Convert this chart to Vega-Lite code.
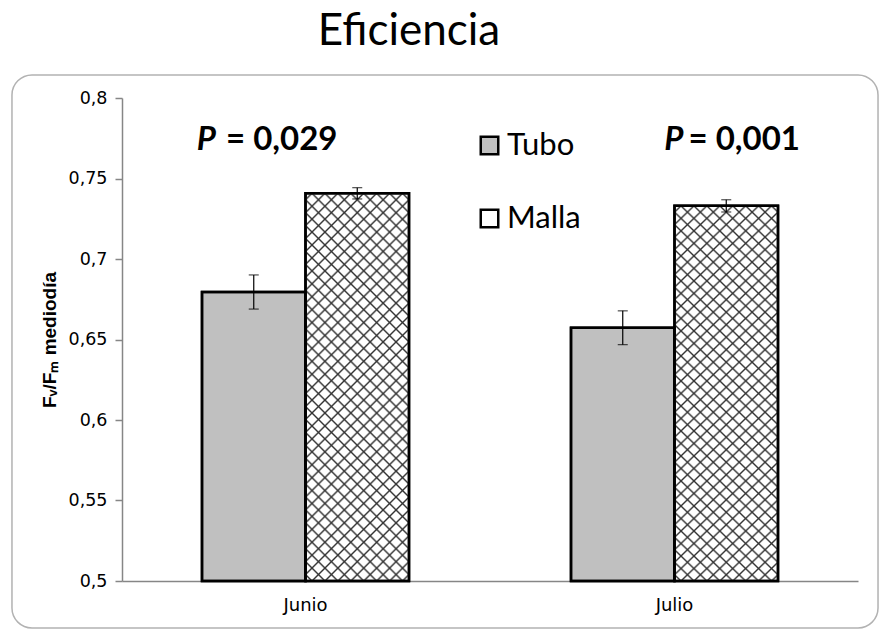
{
  "$schema": "https://vega.github.io/schema/vega-lite/v6.json",
  "width": 736,
  "height": 483,
  "autosize": {"type": "none"},
  "padding": {"left": 122, "top": 98, "right": 21, "bottom": 48},
  "background": "white",
  "title": {"text": "Eficiencia", "font": "Lato", "fontSize": 44, "fontWeight": "normal", "color": "black", "anchor": "middle", "frame": "group", "dx": -81, "offset": 20},
  "datasets": {
    "bars": [
      {"mes": "Junio", "grupo": "Tubo", "valor": 0.6795, "lo": 0.6689, "hi": 0.6901},
      {"mes": "Junio", "grupo": "Malla", "valor": 0.7408, "lo": 0.7373, "hi": 0.7443},
      {"mes": "Julio", "grupo": "Tubo", "valor": 0.6573, "lo": 0.6468, "hi": 0.6678},
      {"mes": "Julio", "grupo": "Malla", "valor": 0.733, "lo": 0.7292, "hi": 0.7368}
    ],
    "notas": [
      {"mes": "Junio", "p": "P", "texto": "= 0,029"},
      {"mes": "Julio", "p": "P", "texto": "= 0,001"}
    ]
  },
  "config": {"view": {"stroke": null}},
  "layer": [
    {
      "data": {"values": [{"marco": "borde"}]},
      "mark": {"type": "rect", "fill": "transparent", "stroke": "#b2b2b2", "strokeWidth": 1.5, "cornerRadius": 20},
      "encoding": {
        "x": {"datum": -0.1495, "type": "quantitative", "scale": {"domain": [0, 1], "nice": false, "zero": false}, "axis": null},
        "x2": {"datum": 1.0272},
        "y": {"datum": 0.8143, "type": "quantitative", "scale": {"domain": [0.5, 0.8], "nice": false, "zero": false}},
        "y2": {"datum": 0.4708}
      }
    },
    {
      "data": {"name": "bars"},
      "layer": [
        {
          "mark": {"type": "bar", "stroke": "black", "strokeWidth": 2.5},
          "encoding": {
            "x": {"field": "mes", "type": "nominal", "sort": ["Junio", "Julio"],
              "scale": {"domain": ["Junio", "Julio"], "paddingInner": 0.439, "paddingOuter": 0.2168},
              "axis": {"title": null, "labelAngle": 0, "ticks": false, "labelFont": "DejaVu Sans", "labelFontSize": 18, "labelColor": "black", "labelPadding": 15, "domainColor": "#868686", "domainWidth": 1.5}},
            "xOffset": {"field": "grupo", "type": "nominal", "sort": ["Tubo", "Malla"], "scale": {"domain": ["Tubo", "Malla"], "paddingInner": 0, "paddingOuter": 0}},
            "y": {"field": "valor", "type": "quantitative", "scale": {"domain": [0.5, 0.8], "nice": false, "zero": false},
              "axis": {"values": [0.5, 0.55, 0.6, 0.65, 0.7, 0.75, 0.8], "labelExpr": "replace(format(datum.value, '.2~f'), '.', ',')",
                "title": "Fᵥ/Fₘ mediodía", "titleFont": "Liberation Sans", "titleFontSize": 19, "titleFontWeight": "bold", "titleColor": "black", "titlePadding": 9,
                "labelFont": "DejaVu Sans", "labelFontSize": 17.5, "labelColor": "black", "labelPadding": 8, "tickSize": 7, "tickColor": "#868686", "tickWidth": 1.5,
                "domainColor": "#868686", "domainWidth": 1.5, "grid": false}},
            "y2": {"datum": 0.5},
            "color": {"field": "grupo", "type": "nominal", "sort": ["Tubo", "Malla"],
              "scale": {"domain": ["Tubo", "Malla"], "range": ["#c0c0c0", "#ffffff"]},
              "legend": {"orient": "none", "legendX": 352, "legendY": 32, "title": null, "symbolType": "square", "symbolSize": 306,
                "labelFont": "Lato", "labelFontSize": 31, "labelColor": "black", "labelOffset": 2, "rowPadding": 41, "padding": 0,
                "symbolStrokeColor": "black", "symbolStrokeWidth": 2.5}}
          }
        },
        {
          "transform": [{"filter": "datum.grupo === 'Malla'"}],
          "mark": {"type": "bar", "strokeWidth": 0, "fill": {"gradient": "linear", "x1": 0, "y1": 0, "x2": 0.3155, "y2": 1.1826, "stops": [
        {"offset":0.0091,"color":"rgba(51,51,51,0)"},{"offset":0.0132,"color":"#333333"},{"offset":0.0173,"color":"rgba(51,51,51,0)"},
        {"offset":0.0354,"color":"rgba(51,51,51,0)"},{"offset":0.0395,"color":"#333333"},{"offset":0.0436,"color":"rgba(51,51,51,0)"},
        {"offset":0.0617,"color":"rgba(51,51,51,0)"},{"offset":0.0658,"color":"#333333"},{"offset":0.0699,"color":"rgba(51,51,51,0)"},
        {"offset":0.0880,"color":"rgba(51,51,51,0)"},{"offset":0.0921,"color":"#333333"},{"offset":0.0962,"color":"rgba(51,51,51,0)"},
        {"offset":0.1143,"color":"rgba(51,51,51,0)"},{"offset":0.1184,"color":"#333333"},{"offset":0.1225,"color":"rgba(51,51,51,0)"},
        {"offset":0.1406,"color":"rgba(51,51,51,0)"},{"offset":0.1447,"color":"#333333"},{"offset":0.1488,"color":"rgba(51,51,51,0)"},
        {"offset":0.1670,"color":"rgba(51,51,51,0)"},{"offset":0.1711,"color":"#333333"},{"offset":0.1752,"color":"rgba(51,51,51,0)"},
        {"offset":0.1933,"color":"rgba(51,51,51,0)"},{"offset":0.1974,"color":"#333333"},{"offset":0.2015,"color":"rgba(51,51,51,0)"},
        {"offset":0.2196,"color":"rgba(51,51,51,0)"},{"offset":0.2237,"color":"#333333"},{"offset":0.2278,"color":"rgba(51,51,51,0)"},
        {"offset":0.2459,"color":"rgba(51,51,51,0)"},{"offset":0.2500,"color":"#333333"},{"offset":0.2541,"color":"rgba(51,51,51,0)"},
        {"offset":0.2722,"color":"rgba(51,51,51,0)"},{"offset":0.2763,"color":"#333333"},{"offset":0.2804,"color":"rgba(51,51,51,0)"},
        {"offset":0.2985,"color":"rgba(51,51,51,0)"},{"offset":0.3026,"color":"#333333"},{"offset":0.3067,"color":"rgba(51,51,51,0)"},
        {"offset":0.3249,"color":"rgba(51,51,51,0)"},{"offset":0.3290,"color":"#333333"},{"offset":0.3331,"color":"rgba(51,51,51,0)"},
        {"offset":0.3512,"color":"rgba(51,51,51,0)"},{"offset":0.3553,"color":"#333333"},{"offset":0.3594,"color":"rgba(51,51,51,0)"},
        {"offset":0.3775,"color":"rgba(51,51,51,0)"},{"offset":0.3816,"color":"#333333"},{"offset":0.3857,"color":"rgba(51,51,51,0)"},
        {"offset":0.4038,"color":"rgba(51,51,51,0)"},{"offset":0.4079,"color":"#333333"},{"offset":0.4120,"color":"rgba(51,51,51,0)"},
        {"offset":0.4301,"color":"rgba(51,51,51,0)"},{"offset":0.4342,"color":"#333333"},{"offset":0.4383,"color":"rgba(51,51,51,0)"},
        {"offset":0.4564,"color":"rgba(51,51,51,0)"},{"offset":0.4605,"color":"#333333"},{"offset":0.4646,"color":"rgba(51,51,51,0)"},
        {"offset":0.4827,"color":"rgba(51,51,51,0)"},{"offset":0.4868,"color":"#333333"},{"offset":0.4909,"color":"rgba(51,51,51,0)"},
        {"offset":0.5091,"color":"rgba(51,51,51,0)"},{"offset":0.5132,"color":"#333333"},{"offset":0.5173,"color":"rgba(51,51,51,0)"},
        {"offset":0.5354,"color":"rgba(51,51,51,0)"},{"offset":0.5395,"color":"#333333"},{"offset":0.5436,"color":"rgba(51,51,51,0)"},
        {"offset":0.5617,"color":"rgba(51,51,51,0)"},{"offset":0.5658,"color":"#333333"},{"offset":0.5699,"color":"rgba(51,51,51,0)"},
        {"offset":0.5880,"color":"rgba(51,51,51,0)"},{"offset":0.5921,"color":"#333333"},{"offset":0.5962,"color":"rgba(51,51,51,0)"},
        {"offset":0.6143,"color":"rgba(51,51,51,0)"},{"offset":0.6184,"color":"#333333"},{"offset":0.6225,"color":"rgba(51,51,51,0)"},
        {"offset":0.6406,"color":"rgba(51,51,51,0)"},{"offset":0.6447,"color":"#333333"},{"offset":0.6488,"color":"rgba(51,51,51,0)"},
        {"offset":0.6670,"color":"rgba(51,51,51,0)"},{"offset":0.6711,"color":"#333333"},{"offset":0.6752,"color":"rgba(51,51,51,0)"},
        {"offset":0.6933,"color":"rgba(51,51,51,0)"},{"offset":0.6974,"color":"#333333"},{"offset":0.7015,"color":"rgba(51,51,51,0)"},
        {"offset":0.7196,"color":"rgba(51,51,51,0)"},{"offset":0.7237,"color":"#333333"},{"offset":0.7278,"color":"rgba(51,51,51,0)"},
        {"offset":0.7459,"color":"rgba(51,51,51,0)"},{"offset":0.7500,"color":"#333333"},{"offset":0.7541,"color":"rgba(51,51,51,0)"},
        {"offset":0.7722,"color":"rgba(51,51,51,0)"},{"offset":0.7763,"color":"#333333"},{"offset":0.7804,"color":"rgba(51,51,51,0)"},
        {"offset":0.7985,"color":"rgba(51,51,51,0)"},{"offset":0.8026,"color":"#333333"},{"offset":0.8067,"color":"rgba(51,51,51,0)"},
        {"offset":0.8249,"color":"rgba(51,51,51,0)"},{"offset":0.8290,"color":"#333333"},{"offset":0.8331,"color":"rgba(51,51,51,0)"},
        {"offset":0.8512,"color":"rgba(51,51,51,0)"},{"offset":0.8553,"color":"#333333"},{"offset":0.8594,"color":"rgba(51,51,51,0)"},
        {"offset":0.8775,"color":"rgba(51,51,51,0)"},{"offset":0.8816,"color":"#333333"},{"offset":0.8857,"color":"rgba(51,51,51,0)"},
        {"offset":0.9038,"color":"rgba(51,51,51,0)"},{"offset":0.9079,"color":"#333333"},{"offset":0.9120,"color":"rgba(51,51,51,0)"},
        {"offset":0.9301,"color":"rgba(51,51,51,0)"},{"offset":0.9342,"color":"#333333"},{"offset":0.9383,"color":"rgba(51,51,51,0)"},
        {"offset":0.9564,"color":"rgba(51,51,51,0)"},{"offset":0.9605,"color":"#333333"},{"offset":0.9646,"color":"rgba(51,51,51,0)"},
        {"offset":0.9827,"color":"rgba(51,51,51,0)"},{"offset":0.9868,"color":"#333333"},{"offset":0.9909,"color":"rgba(51,51,51,0)"}
          ]}},
          "encoding": {
            "x": {"field": "mes", "type": "nominal"},
            "xOffset": {"field": "grupo", "type": "nominal"},
            "y": {"field": "valor", "type": "quantitative"},
            "y2": {"datum": 0.5}
          }
        },
        {
          "transform": [{"filter": "datum.grupo === 'Malla'"}],
          "mark": {"type": "bar", "strokeWidth": 0, "fill": {"gradient": "linear", "x1": 1, "y1": 0, "x2": 0.6845, "y2": 1.1826, "stops": [
        {"offset":0.0091,"color":"rgba(51,51,51,0)"},{"offset":0.0132,"color":"#333333"},{"offset":0.0173,"color":"rgba(51,51,51,0)"},
        {"offset":0.0354,"color":"rgba(51,51,51,0)"},{"offset":0.0395,"color":"#333333"},{"offset":0.0436,"color":"rgba(51,51,51,0)"},
        {"offset":0.0617,"color":"rgba(51,51,51,0)"},{"offset":0.0658,"color":"#333333"},{"offset":0.0699,"color":"rgba(51,51,51,0)"},
        {"offset":0.0880,"color":"rgba(51,51,51,0)"},{"offset":0.0921,"color":"#333333"},{"offset":0.0962,"color":"rgba(51,51,51,0)"},
        {"offset":0.1143,"color":"rgba(51,51,51,0)"},{"offset":0.1184,"color":"#333333"},{"offset":0.1225,"color":"rgba(51,51,51,0)"},
        {"offset":0.1406,"color":"rgba(51,51,51,0)"},{"offset":0.1447,"color":"#333333"},{"offset":0.1488,"color":"rgba(51,51,51,0)"},
        {"offset":0.1670,"color":"rgba(51,51,51,0)"},{"offset":0.1711,"color":"#333333"},{"offset":0.1752,"color":"rgba(51,51,51,0)"},
        {"offset":0.1933,"color":"rgba(51,51,51,0)"},{"offset":0.1974,"color":"#333333"},{"offset":0.2015,"color":"rgba(51,51,51,0)"},
        {"offset":0.2196,"color":"rgba(51,51,51,0)"},{"offset":0.2237,"color":"#333333"},{"offset":0.2278,"color":"rgba(51,51,51,0)"},
        {"offset":0.2459,"color":"rgba(51,51,51,0)"},{"offset":0.2500,"color":"#333333"},{"offset":0.2541,"color":"rgba(51,51,51,0)"},
        {"offset":0.2722,"color":"rgba(51,51,51,0)"},{"offset":0.2763,"color":"#333333"},{"offset":0.2804,"color":"rgba(51,51,51,0)"},
        {"offset":0.2985,"color":"rgba(51,51,51,0)"},{"offset":0.3026,"color":"#333333"},{"offset":0.3067,"color":"rgba(51,51,51,0)"},
        {"offset":0.3249,"color":"rgba(51,51,51,0)"},{"offset":0.3290,"color":"#333333"},{"offset":0.3331,"color":"rgba(51,51,51,0)"},
        {"offset":0.3512,"color":"rgba(51,51,51,0)"},{"offset":0.3553,"color":"#333333"},{"offset":0.3594,"color":"rgba(51,51,51,0)"},
        {"offset":0.3775,"color":"rgba(51,51,51,0)"},{"offset":0.3816,"color":"#333333"},{"offset":0.3857,"color":"rgba(51,51,51,0)"},
        {"offset":0.4038,"color":"rgba(51,51,51,0)"},{"offset":0.4079,"color":"#333333"},{"offset":0.4120,"color":"rgba(51,51,51,0)"},
        {"offset":0.4301,"color":"rgba(51,51,51,0)"},{"offset":0.4342,"color":"#333333"},{"offset":0.4383,"color":"rgba(51,51,51,0)"},
        {"offset":0.4564,"color":"rgba(51,51,51,0)"},{"offset":0.4605,"color":"#333333"},{"offset":0.4646,"color":"rgba(51,51,51,0)"},
        {"offset":0.4827,"color":"rgba(51,51,51,0)"},{"offset":0.4868,"color":"#333333"},{"offset":0.4909,"color":"rgba(51,51,51,0)"},
        {"offset":0.5091,"color":"rgba(51,51,51,0)"},{"offset":0.5132,"color":"#333333"},{"offset":0.5173,"color":"rgba(51,51,51,0)"},
        {"offset":0.5354,"color":"rgba(51,51,51,0)"},{"offset":0.5395,"color":"#333333"},{"offset":0.5436,"color":"rgba(51,51,51,0)"},
        {"offset":0.5617,"color":"rgba(51,51,51,0)"},{"offset":0.5658,"color":"#333333"},{"offset":0.5699,"color":"rgba(51,51,51,0)"},
        {"offset":0.5880,"color":"rgba(51,51,51,0)"},{"offset":0.5921,"color":"#333333"},{"offset":0.5962,"color":"rgba(51,51,51,0)"},
        {"offset":0.6143,"color":"rgba(51,51,51,0)"},{"offset":0.6184,"color":"#333333"},{"offset":0.6225,"color":"rgba(51,51,51,0)"},
        {"offset":0.6406,"color":"rgba(51,51,51,0)"},{"offset":0.6447,"color":"#333333"},{"offset":0.6488,"color":"rgba(51,51,51,0)"},
        {"offset":0.6670,"color":"rgba(51,51,51,0)"},{"offset":0.6711,"color":"#333333"},{"offset":0.6752,"color":"rgba(51,51,51,0)"},
        {"offset":0.6933,"color":"rgba(51,51,51,0)"},{"offset":0.6974,"color":"#333333"},{"offset":0.7015,"color":"rgba(51,51,51,0)"},
        {"offset":0.7196,"color":"rgba(51,51,51,0)"},{"offset":0.7237,"color":"#333333"},{"offset":0.7278,"color":"rgba(51,51,51,0)"},
        {"offset":0.7459,"color":"rgba(51,51,51,0)"},{"offset":0.7500,"color":"#333333"},{"offset":0.7541,"color":"rgba(51,51,51,0)"},
        {"offset":0.7722,"color":"rgba(51,51,51,0)"},{"offset":0.7763,"color":"#333333"},{"offset":0.7804,"color":"rgba(51,51,51,0)"},
        {"offset":0.7985,"color":"rgba(51,51,51,0)"},{"offset":0.8026,"color":"#333333"},{"offset":0.8067,"color":"rgba(51,51,51,0)"},
        {"offset":0.8249,"color":"rgba(51,51,51,0)"},{"offset":0.8290,"color":"#333333"},{"offset":0.8331,"color":"rgba(51,51,51,0)"},
        {"offset":0.8512,"color":"rgba(51,51,51,0)"},{"offset":0.8553,"color":"#333333"},{"offset":0.8594,"color":"rgba(51,51,51,0)"},
        {"offset":0.8775,"color":"rgba(51,51,51,0)"},{"offset":0.8816,"color":"#333333"},{"offset":0.8857,"color":"rgba(51,51,51,0)"},
        {"offset":0.9038,"color":"rgba(51,51,51,0)"},{"offset":0.9079,"color":"#333333"},{"offset":0.9120,"color":"rgba(51,51,51,0)"},
        {"offset":0.9301,"color":"rgba(51,51,51,0)"},{"offset":0.9342,"color":"#333333"},{"offset":0.9383,"color":"rgba(51,51,51,0)"},
        {"offset":0.9564,"color":"rgba(51,51,51,0)"},{"offset":0.9605,"color":"#333333"},{"offset":0.9646,"color":"rgba(51,51,51,0)"},
        {"offset":0.9827,"color":"rgba(51,51,51,0)"},{"offset":0.9868,"color":"#333333"},{"offset":0.9909,"color":"rgba(51,51,51,0)"}
          ]}},
          "encoding": {
            "x": {"field": "mes", "type": "nominal"},
            "xOffset": {"field": "grupo", "type": "nominal"},
            "y": {"field": "valor", "type": "quantitative"},
            "y2": {"datum": 0.5}
          }
        },
        {
          "mark": {"type": "bar", "fill": "transparent", "stroke": "black", "strokeWidth": 2.5},
          "encoding": {
            "x": {"field": "mes", "type": "nominal"},
            "xOffset": {"field": "grupo", "type": "nominal"},
            "y": {"field": "valor", "type": "quantitative"},
            "y2": {"datum": 0.5}
          }
        },
        {
          "mark": {"type": "rule", "color": "black", "strokeWidth": 1.2},
          "encoding": {
            "x": {"field": "mes", "type": "nominal"},
            "xOffset": {"field": "grupo", "type": "nominal"},
            "y": {"field": "lo", "type": "quantitative"},
            "y2": {"field": "hi"}
          }
        },
        {
          "mark": {"type": "tick", "color": "black", "size": 10, "thickness": 1.2},
          "encoding": {
            "x": {"field": "mes", "type": "nominal"},
            "xOffset": {"field": "grupo", "type": "nominal"},
            "y": {"field": "lo", "type": "quantitative"}
          }
        },
        {
          "mark": {"type": "tick", "color": "black", "size": 10, "thickness": 1.2},
          "encoding": {
            "x": {"field": "mes", "type": "nominal"},
            "xOffset": {"field": "grupo", "type": "nominal"},
            "y": {"field": "hi", "type": "quantitative"}
          }
        },
        {
          "data": {"name": "notas"},
          "transform": [{"filter": "datum.mes === 'Junio'"}],
          "mark": {"type": "text", "font": "Lato", "fontSize": 33, "fontWeight": "bold", "fontStyle": "italic", "align": "right", "baseline": "alphabetic", "dx": -89.5, "color": "black"},
          "encoding": {"x": {"field": "mes", "type": "nominal"}, "y": {"datum": 0.7677}, "text": {"field": "p"}}
        },
        {
          "data": {"name": "notas"},
          "transform": [{"filter": "datum.mes === 'Junio'"}],
          "mark": {"type": "text", "font": "Lato", "fontSize": 33, "fontWeight": "bold", "align": "left", "baseline": "alphabetic", "dx": -79.5, "color": "black"},
          "encoding": {"x": {"field": "mes", "type": "nominal"}, "y": {"datum": 0.7677}, "text": {"field": "texto"}}
        },
        {
          "data": {"name": "notas"},
          "transform": [{"filter": "datum.mes === 'Julio'"}],
          "mark": {"type": "text", "font": "Lato", "fontSize": 33, "fontWeight": "bold", "fontStyle": "italic", "align": "right", "baseline": "alphabetic", "dx": 9, "color": "black"},
          "encoding": {"x": {"field": "mes", "type": "nominal"}, "y": {"datum": 0.7677}, "text": {"field": "p"}}
        },
        {
          "data": {"name": "notas"},
          "transform": [{"filter": "datum.mes === 'Julio'"}],
          "mark": {"type": "text", "font": "Lato", "fontSize": 33, "fontWeight": "bold", "align": "left", "baseline": "alphabetic", "dx": 14, "color": "black"},
          "encoding": {"x": {"field": "mes", "type": "nominal"}, "y": {"datum": 0.7677}, "text": {"field": "texto"}}
        }
      ]
    }
  ],
  "resolve": {"scale": {"x": "independent"}, "axis": {"x": "independent"}}
}
